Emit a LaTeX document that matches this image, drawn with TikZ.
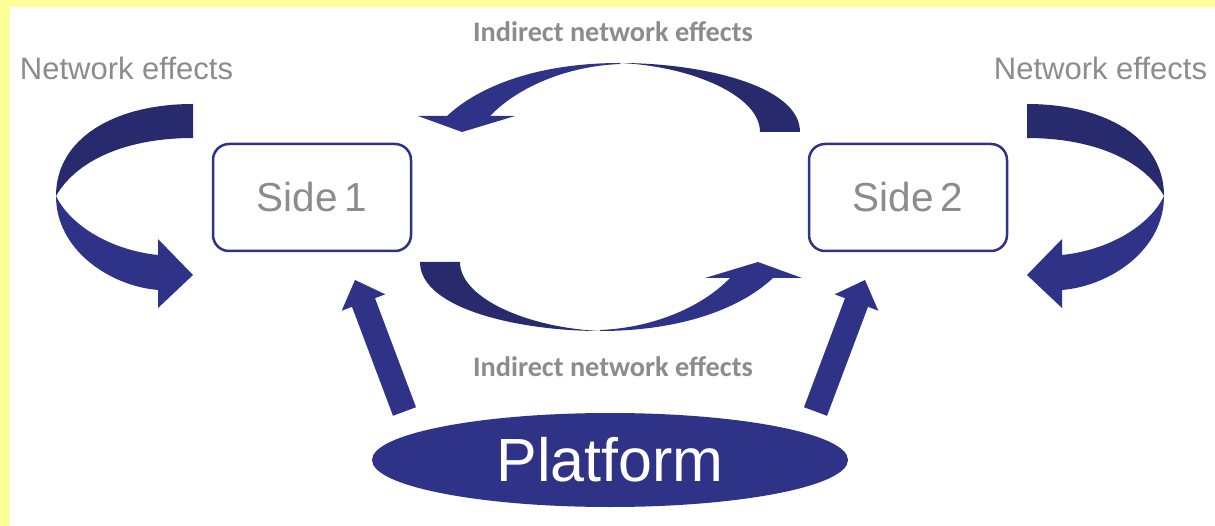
\documentclass[tikz,border=0pt]{standalone}
\usepackage{fontspec}
\setmainfont{Liberation Sans}
\newfontfamily\calfont{Carlito}
\usetikzlibrary{shapes.geometric}
\definecolor{bandyellow}{HTML}{FFFF99}
\definecolor{navydark}{HTML}{272A6D}
\definecolor{navylight}{HTML}{2F3388}
\definecolor{labelgray}{HTML}{8C8C8C}
\tikzset{
  sidebox/.style={draw=navylight, line width=2.5pt, rounded corners=16pt, minimum width=198pt, minimum height=107pt, inner sep=0pt, text=labelgray, font=\fontsize{40.5}{46}\selectfont},
  netlabel/.style={anchor=base, text=labelgray, inner sep=0pt, font=\fontsize{31}{36}\selectfont},
  indlabel/.style={anchor=base, text=labelgray, inner sep=0pt, font=\calfont\bfseries\fontsize{28.3}{32}\selectfont},
  platformshape/.style={ellipse, fill=navylight, minimum width=476pt, minimum height=94pt, inner sep=0pt, text=white, font=\fontsize{61}{70}\selectfont},
  darkpart/.style={fill=navydark},
  lightpart/.style={fill=navylight}
}
\begin{document}
\begin{tikzpicture}[x=1pt,y=-1pt]
\useasboundingbox (0,0) rectangle (1215,526);
\fill[white] (0,0) rectangle (1215,526);
\fill[bandyellow] (0,0) rectangle (1215,7.5);
\fill[bandyellow] (0,0) rectangle (10,526);

% labels
\node[netlabel] (netL) at (126.5,80) {Network effects};
\node[netlabel] (netR) at (1100.5,80) {Network effects};
\node[indlabel] (indT) at (613,42) {Indirect network effects};
\node[indlabel] (indB) at (613,377) {Indirect network effects};

% side boxes
\node[sidebox] (side1) at (312,197.5) {Side\,1};
\node[sidebox] (side2) at (908,197.5) {Side\,2};

% platform
\node[platformshape] (platform) at (610,460) {Platform};

% left network-effects ribbon arrow
\fill[darkpart] (193,104) .. controls (115,104) and (56,138) .. (56,196)
  .. controls (78,158) and (130,138) .. (193,138) -- cycle;
\fill[lightpart] (56,196) .. controls (56,250) and (110,286) .. (158,290)
  -- (158,308) -- (193,275) -- (158,239) -- (158,255)
  .. controls (110,250) and (70,225) .. (56,196) -- cycle;

% right network-effects ribbon arrow (mirror)
\begin{scope}[shift={(1220,0)}, xscale=-1]
\fill[darkpart] (193,104) .. controls (115,104) and (56,138) .. (56,196)
  .. controls (78,158) and (130,138) .. (193,138) -- cycle;
\fill[lightpart] (56,196) .. controls (56,250) and (110,286) .. (158,290)
  -- (158,308) -- (193,275) -- (158,239) -- (158,255)
  .. controls (110,250) and (70,225) .. (56,196) -- cycle;
\end{scope}

% top indirect ribbon arrow
\fill[darkpart] (800,132) .. controls (800,85) and (700,63) .. (620,63)
  .. controls (690,66) and (760,95) .. (760,132) -- cycle;
\fill[lightpart] (620,63) .. controls (540,63) and (480,85) .. (447,116)
  -- (418,116) -- (462,132) -- (515,116) -- (490,116)
  .. controls (520,85) and (570,66) .. (620,64) -- cycle;

% bottom indirect ribbon arrow (rotated copy)
\begin{scope}[shift={(1220,394)}, xscale=-1, yscale=-1]
\fill[darkpart] (800,132) .. controls (800,85) and (700,63) .. (620,63)
  .. controls (690,66) and (760,95) .. (760,132) -- cycle;
\fill[lightpart] (620,63) .. controls (540,63) and (480,85) .. (447,116)
  -- (418,116) -- (462,132) -- (515,116) -- (490,116)
  .. controls (520,85) and (570,66) .. (620,64) -- cycle;
\end{scope}

% block arrows from platform to sides
\fill[lightpart] (393.0,415.8) -- (416.0,407.2) -- (375.0,298.2) -- (385.3,294.3)
  -- (355,280) -- (341.7,310.7) -- (352.0,306.8) -- cycle;
\begin{scope}[shift={(1220,0)}, xscale=-1]
\fill[lightpart] (393.0,415.8) -- (416.0,407.2) -- (375.0,298.2) -- (385.3,294.3)
  -- (355,280) -- (341.7,310.7) -- (352.0,306.8) -- cycle;
\end{scope}
\end{tikzpicture}
\end{document}
